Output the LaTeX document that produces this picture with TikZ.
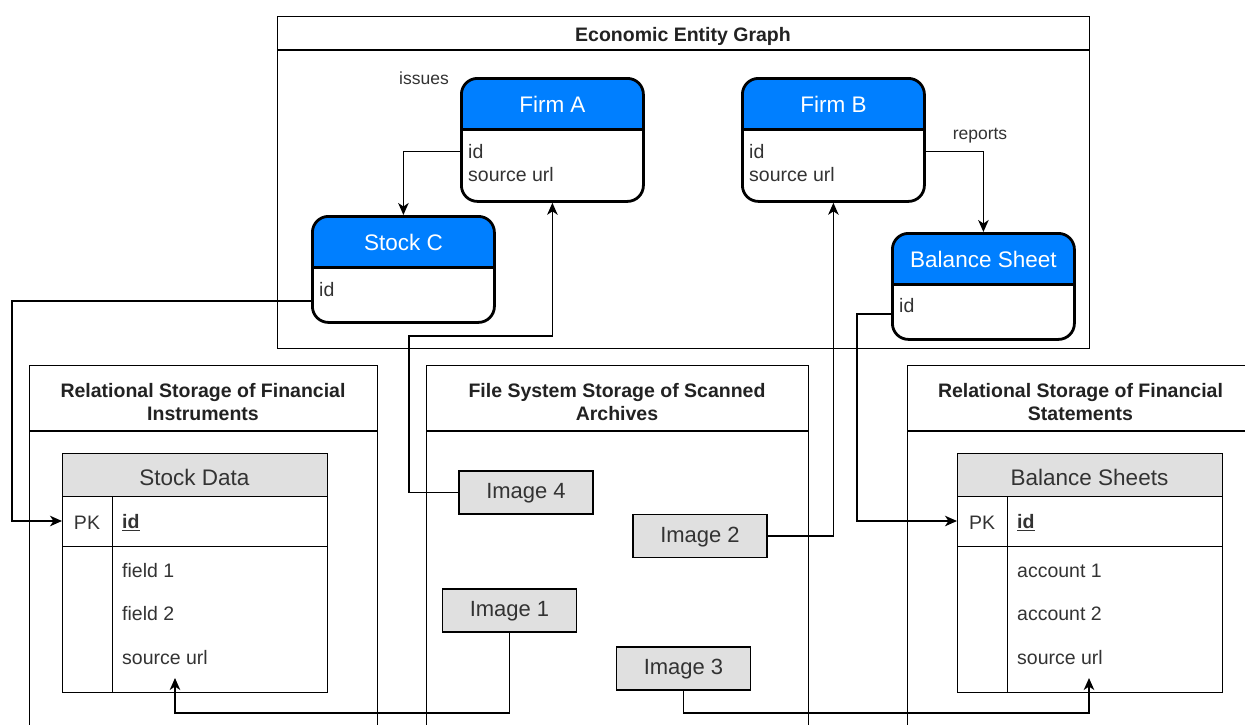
\documentclass[tikz,border=0pt]{standalone}
\usepackage{fontspec}
\setmainfont{Liberation Sans}
\usetikzlibrary{arrows.meta,calc}
\definecolor{hdrblue}{RGB}{0,127,255}
\definecolor{grayfill}{RGB}{224,224,224}
\definecolor{txt}{RGB}{51,51,51}
\definecolor{ttl}{RGB}{34,34,34}
\begin{document}
\begin{tikzpicture}[x=1pt,y=-1pt,
  container/.style={draw, line width=1.4pt, inner sep=0pt, anchor=north west},
  divider/.style={line width=1.4pt},
  grouptitle/.style={text=ttl, font=\bfseries\fontsize{19.5}{23}\selectfont, align=center, inner sep=0pt, yshift=-2pt},
  entity/.style={draw, line width=2.8pt, rounded corners=16pt, inner sep=0pt, anchor=north west, fill=white,
    path picture={\fill[hdrblue, sharp corners] (path picture bounding box.north west) rectangle ([yshift=-51pt]path picture bounding box.north east);
      \draw[line width=2.8pt, sharp corners] ([yshift=-51pt]path picture bounding box.north west) -- ([yshift=-51pt]path picture bounding box.north east);}},
  hdrtext/.style={text=white, font=\fontsize{22.5}{26}\selectfont, inner sep=0pt, yshift=-2pt},
  bodytext/.style={text=txt, font=\fontsize{19.5}{23}\selectfont, inner sep=0pt, anchor=west, yshift=-1.5pt},
  edgelabel/.style={text=txt, font=\fontsize{17.5}{21}\selectfont, inner sep=0pt, yshift=-1.5pt},
  tablebox/.style={draw, line width=1.4pt, inner sep=0pt, anchor=north west, minimum width=265pt, minimum height=239pt,
    path picture={\fill[grayfill] (path picture bounding box.north west) rectangle ([yshift=-43pt]path picture bounding box.north east);
      \draw[line width=1.4pt] ([yshift=-43pt]path picture bounding box.north west) -- ([yshift=-43pt]path picture bounding box.north east);
      \draw[line width=1.4pt] ([yshift=-93pt]path picture bounding box.north west) -- ([yshift=-93pt]path picture bounding box.north east);
      \draw[line width=1.4pt] ([xshift=50pt,yshift=-43pt]path picture bounding box.north west) -- ([xshift=50pt]path picture bounding box.south west);}},
  tabletitle/.style={text=txt, font=\fontsize{22.5}{26}\selectfont, inner sep=0pt, yshift=-2pt},
  imgbox/.style={draw, line width=1.4pt, fill=grayfill, minimum width=134pt, minimum height=43pt, inner sep=0pt,
    text=txt, font=\fontsize{22}{26}\selectfont, text height=16pt, text depth=4pt},
  conn/.style={draw, line width=1.5pt, -{Stealth[length=12pt,width=10.5pt,inset=3.5pt]}}
]
\useasboundingbox (0,0) rectangle (1245,724);
\clip (0,0) rectangle (1245,724);
\fill[white] (0,0) rectangle (1245,724);

% ---------- top container ----------
\node[container, minimum width=812pt, minimum height=332pt] (graph) at (277,16) {};
\draw[divider] ([yshift=-34pt]graph.north west) -- ([yshift=-34pt]graph.north east);
\node[grouptitle] (graphtitle) at (683,34) {Economic Entity Graph};

% ---------- bottom containers ----------
\node[container, minimum width=348pt, minimum height=400pt] (instr) at (29,365) {};
\draw[divider] ([yshift=-66pt]instr.north west) -- ([yshift=-66pt]instr.north east);
\node[grouptitle] (instrtitle) at (203,400.5) {Relational Storage of Financial\\Instruments};

\node[container, minimum width=382pt, minimum height=400pt] (files) at (426,365) {};
\draw[divider] ([yshift=-66pt]files.north west) -- ([yshift=-66pt]files.north east);
\node[grouptitle] (filestitle) at (617,400.5) {File System Storage of Scanned\\Archives};

\node[container, minimum width=347pt, minimum height=400pt] (stmts) at (907,365) {};
\draw[divider] ([yshift=-66pt]stmts.north west) -- ([yshift=-66pt]stmts.north east);
\node[grouptitle] (stmtstitle) at (1080.5,400.5) {Relational Storage of Financial\\Statements};

% ---------- entities ----------
\node[entity, minimum width=182pt, minimum height=123pt] (firmA) at (460,77) {};
\node[hdrtext] (firmAt) at ([yshift=-25.5pt]firmA.north) {Firm A};
\node[bodytext] (aid) at (468,150) {id};
\node[bodytext] (asrc) at (468,173) {source url};

\node[entity, minimum width=182pt, minimum height=123pt] (firmB) at (741,77) {};
\node[hdrtext] (firmBt) at ([yshift=-25.5pt]firmB.north) {Firm B};
\node[bodytext] (bid) at (749,150) {id};
\node[bodytext] (bsrc) at (749,173) {source url};

\node[entity, minimum width=182pt, minimum height=106pt] (stockC) at (311,215) {};
\node[hdrtext] (stockCt) at ([yshift=-25.5pt]stockC.north) {Stock C};
\node[bodytext] (cid) at (319,288) {id};

\node[entity, minimum width=182pt, minimum height=106pt] (bsheet) at (891,232) {};
\node[hdrtext] (bsheett) at ([yshift=-25.5pt]bsheet.north) {Balance Sheet};
\node[bodytext] (did) at (899,304) {id};

\node[edgelabel] (issues) at (424,77) {issues};
\node[edgelabel] (reports) at (980,134) {reports};

% ---------- tables ----------
\node[tablebox] (sdata) at (62,453) {};
\node[tabletitle] (sdatat) at (194.5,475) {Stock Data};
\node[bodytext, anchor=center] (pkA) at (87,521) {PK};
\node[bodytext, font=\bfseries\fontsize{19.5}{23}\selectfont] (idA) at (122,521) {\underline{id}};
\node[bodytext] (f1) at (122,569) {field 1};
\node[bodytext] (f2) at (122,612) {field 2};
\node[bodytext] (srcA) at (122,656) {source url};

\node[tablebox] (bsheets) at (957,453) {};
\node[tabletitle] (bsheetst) at (1089.5,475) {Balance Sheets};
\node[bodytext, anchor=center] (pkB) at (982,521) {PK};
\node[bodytext, font=\bfseries\fontsize{19.5}{23}\selectfont] (idB) at (1017,521) {\underline{id}};
\node[bodytext] (a1) at (1017,569) {account 1};
\node[bodytext] (a2) at (1017,612) {account 2};
\node[bodytext] (srcB) at (1017,656) {source url};

% ---------- images ----------
\node[imgbox] (img4) at (526,492.5) {Image 4};
\node[imgbox] (img2) at (700,536) {Image 2};
\node[imgbox] (img1) at (509.5,610.5) {Image 1};
\node[imgbox] (img3) at (683.5,668.5) {Image 3};

% ---------- connectors ----------
\coordinate (jA) at (409,336);
\coordinate (lA) at (12,521);
\coordinate (lB) at (857,521);
\coordinate (bus) at (0,713);
\coordinate (tA) at (175,678);
\coordinate (tB) at (1089,678);

\draw[conn] (firmA.west |- aid) -| (stockC.north);
\draw[conn] (firmB.east |- bid) -| (bsheet.north);
\draw[conn] ([yshift=23pt]stockC.south west) -| (lA) -- (sdata.west |- lA);
\draw[conn] ([yshift=27pt]bsheet.south west) -| (lB) -- (bsheets.west |- lB);
\draw[conn] (img4.west) -| (jA) -| (firmA.south);
\draw[conn] (img2.east) -| (firmB.south);
\draw[conn] (img1.south) |- (tA |- bus) -- (tA);
\draw[conn] (img3.south) |- (tB |- bus) -- (tB);
\end{tikzpicture}
\end{document}
